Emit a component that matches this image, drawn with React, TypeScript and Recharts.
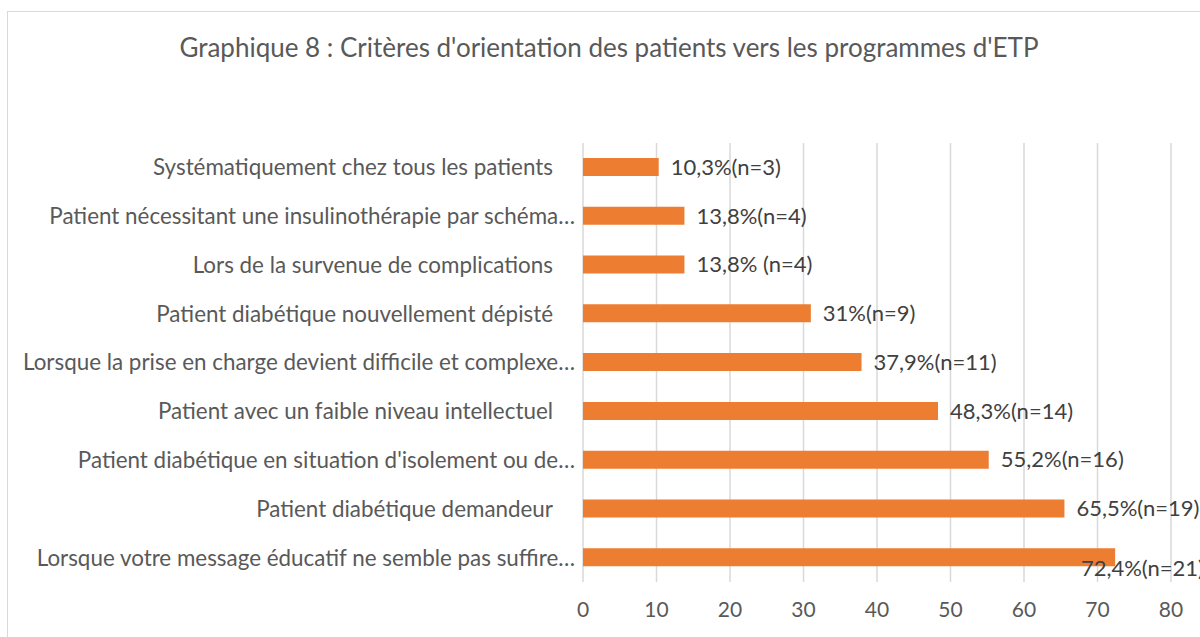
import { BarChart, Bar, XAxis, YAxis, CartesianGrid, LabelList } from "recharts";

// Critères d'orientation vers l'ETP — barres horizontales, style Excel
const categories = [
  "Systématiquement chez tous les patients",
  "Patient nécessitant une insulinothérapie par schéma…",
  "Lors de la survenue de complications",
  "Patient diabétique nouvellement dépisté",
  "Lorsque la prise en charge devient difficile et complexe…",
  "Patient avec un faible niveau intellectuel",
  "Patient diabétique en situation d'isolement ou de…",
  "Patient diabétique demandeur",
  "Lorsque votre message éducatif ne semble pas suffire…",
];
const percents = [10.3, 13.8, 13.8, 31, 37.9, 48.3, 55.2, 65.5, 72.4];
const valueLabels = [
  "10,3%(n=3)",
  "13,8%(n=4)",
  "13,8% (n=4)",
  "31%(n=9)",
  "37,9%(n=11)",
  "48,3%(n=14)",
  "55,2%(n=16)",
  "65,5%(n=19)",
  "72,4%(n=21)",
];
const xTicks = [0, 10, 20, 30, 40, 50, 60, 70, 80];

const data = categories.map((name, i) => ({
  name,
  value: percents[i],
  label: valueLabels[i],
}));

const FONT = "Lato, 'Open Sans', sans-serif";
const CHART_W = 1202;
const CHART_H = 638;

function CategoryTick(props: any) {
  const { x, y, payload } = props;
  const text: string = payload.value;
  // Excel laisse un blanc après les libellés non tronqués
  const shift = text.endsWith("…") ? 0 : -22;
  return (
    <text
      x={x + shift}
      y={y}
      dy="0.355em"
      textAnchor="end"
      fill="#595959"
      fontSize={22.4}
      fontFamily={FONT}
    >
      {text}
    </text>
  );
}

function ValueLabel(props: any) {
  const { x, y, width, height, value } = props;
  const end = x + width;
  const approxW = String(value).length * 10.5;
  // trop près du bord : l'étiquette est recalée sous la fin de la barre
  if (end + 12 + approxW > CHART_W) {
    return (
      <text
        x={CHART_W - 6}
        y={y + height / 2 + 11}
        dy="0.355em"
        textAnchor="end"
        fill="#404040"
        fontSize={22}
        fontFamily={FONT}
      >
        {value}
      </text>
    );
  }
  return (
    <text
      x={end + 12}
      y={y + height / 2}
      dy="0.355em"
      fill="#404040"
      fontSize={22}
      fontFamily={FONT}
    >
      {value}
    </text>
  );
}

export default function App() {
  return (
    <div
      style={{
        position: "fixed",
        left: 0,
        top: 0,
        width: 1200,
        height: 637,
        overflow: "hidden",
        background: "#fff",
      }}
    >
      <div
        style={{
          position: "absolute",
          left: 7,
          top: 11,
          width: 1204,
          height: 640,
          border: "1px solid #d9d9d9",
          boxSizing: "border-box",
        }}
      >
        <div
          style={{
            position: "absolute",
            left: 0,
            top: 19,
            width: CHART_W,
            textAlign: "center",
            fontFamily: FONT,
            fontSize: 26,
            color: "#595959",
          }}
        >
          Graphique 8 : Critères d'orientation des patients vers les programmes d'ETP
        </div>
        <BarChart
          width={CHART_W}
          height={CHART_H}
          data={data}
          layout="vertical"
          margin={{ top: 131, right: 39, bottom: 28, left: 0 }}
          barCategoryGap={0}
        >
          <CartesianGrid vertical horizontal={false} stroke="#d9d9d9" strokeWidth={1.5} />
          <XAxis
            type="number"
            domain={[0, 80]}
            ticks={xTicks}
            axisLine={false}
            tickLine={false}
            tickSize={0}
            tickMargin={20}
            height={40}
            tick={{ fontSize: 21, fill: "#595959", fontFamily: FONT }}
          />
          <YAxis
            type="category"
            dataKey="name"
            width={575}
            axisLine={false}
            tickLine={false}
            tickSize={0}
            tickMargin={8}
            interval={0}
            tick={<CategoryTick />}
          />
          <Bar dataKey="value" fill="#ED7D31" barSize={18} isAnimationActive={false}>
            <LabelList dataKey="label" content={<ValueLabel />} />
          </Bar>
        </BarChart>
      </div>
    </div>
  );
}
